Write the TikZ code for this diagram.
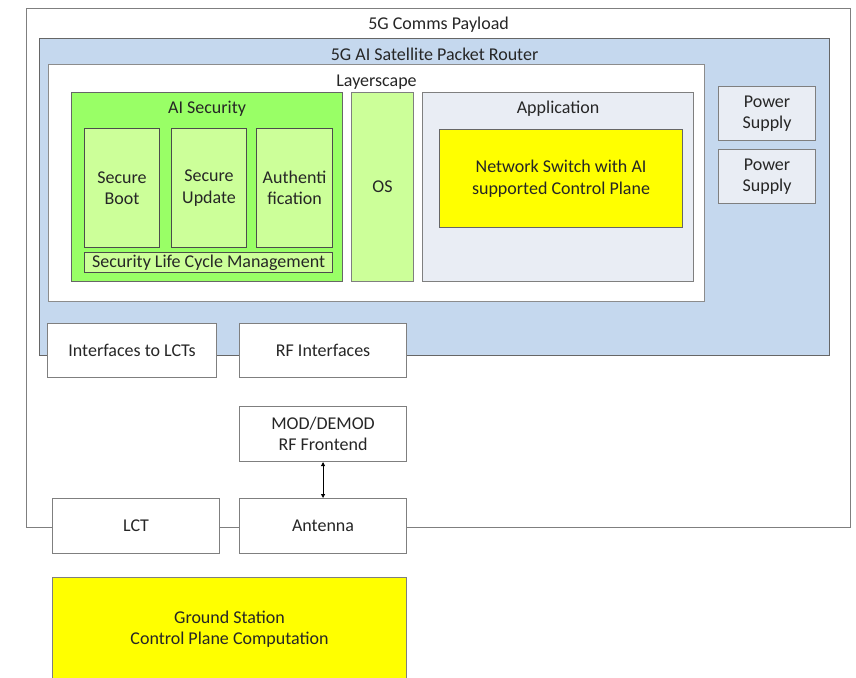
\documentclass[tikz,border=0pt]{standalone}
\usepackage{fontspec}
\setmainfont{Carlito}
\usetikzlibrary{arrows.meta,positioning}

\definecolor{routerblue}{HTML}{C5D8EE}
\definecolor{secgreen}{HTML}{99FF66}
\definecolor{palegreen}{HTML}{CCFF99}
\definecolor{appgray}{HTML}{E9EDF4}
\definecolor{linegray}{HTML}{7F7F7F}
\definecolor{plainyellow}{HTML}{FFFF00}

\begin{document}
\begin{tikzpicture}[x=1pt, y=-1pt,
    font=\fontsize{18}{21.5}\selectfont,
    box/.style={draw=linegray, line width=1.1pt, fill=white, anchor=north west,
        align=center, inner sep=1pt, text=black!85},
    title/.style={text=black!85, inner sep=1pt}]
    \useasboundingbox (0, 0) rectangle (856, 677);

    % containers
    \node[box, minimum width=824pt, minimum height=519pt] (payload) at (26, 8) {};
    \node[title] (payloadtitle) at ([yshift=-17pt]payload.north) {5G Comms Payload};
    \node[box, fill=routerblue, draw=black!60, minimum width=790pt, minimum height=317pt]
        (router) at (39, 38) {};
    \node[title] (routertitle) at ([yshift=-16pt]router.north) {5G AI Satellite Packet Router};
    \node[box, draw=black!45, minimum width=656pt, minimum height=237pt] (layerscape) at (48, 64) {};
    \node[title] (layerscapetitle) at ([yshift=-18pt]layerscape.north) {Layerscape};

    % security block
    \node[box, fill=secgreen, draw=black!60, minimum width=271pt, minimum height=189pt]
        (aisec) at (71, 92) {};
    \node[title] (aisectitle) at ([yshift=-17pt]aisec.north) {AI Security};
    \node[box, fill=palegreen, draw=black!70, minimum width=75pt, minimum height=119pt]
        (boot) at (84, 128) {Secure\\Boot};
    \node[box, fill=palegreen, draw=black!70, minimum width=75pt, minimum height=119pt]
        (update) at (171, 128) {Secure\\Update};
    \node[box, fill=palegreen, draw=black!70, minimum width=76pt, minimum height=119pt]
        (auth) at (256, 128) {Authenti\\fication};
    \node[box, fill=palegreen, draw=black!70, minimum width=248pt, minimum height=20pt]
        (lifecycle) at (84, 252) {Security Life Cycle Management};

    \node[box, fill=palegreen, minimum width=62pt, minimum height=189pt] (os) at (351, 92) {OS};

    % application
    \node[box, fill=appgray, minimum width=271pt, minimum height=189pt] (app) at (422, 92) {};
    \node[title] (apptitle) at ([yshift=-17pt]app.north) {Application};
    \node[box, fill=plainyellow, draw=black!60, minimum width=243pt, minimum height=98pt]
        (switch) at (439, 129) {Network Switch with AI\\supported Control Plane};

    \foreach \psname/\psy in {power1/86, power2/149} {
        \node[box, fill=appgray, minimum width=97pt, minimum height=54pt]
            (\psname) at (718, \psy) {Power\\Supply};
    }

    % interfaces and radio chain
    \node[box, minimum width=169pt, minimum height=54pt] (lctif) at (47, 323) {Interfaces to LCTs};
    \node[box, minimum width=167pt, minimum height=54pt] (rfif) at (239, 323) {RF Interfaces};
    \node[box, minimum width=167pt, minimum height=55pt] (modem) at (239, 406) {MOD/DEMOD\\RF Frontend};
    \node[box, minimum width=167pt, minimum height=55pt] (lct) at (52, 498) {LCT};
    \node[box, minimum width=167pt, minimum height=55pt] (antenna) at (239, 498) {Antenna};
    \draw[{Triangle[length=4pt, width=4pt]}-{Triangle[length=4pt, width=4pt]}, line width=0.9pt]
        (modem) -- (antenna);

    \node[box, fill=plainyellow, minimum width=354pt, minimum height=103pt]
        (ground) at (52, 577) {Ground Station\\Control Plane Computation};
\end{tikzpicture}
\end{document}
